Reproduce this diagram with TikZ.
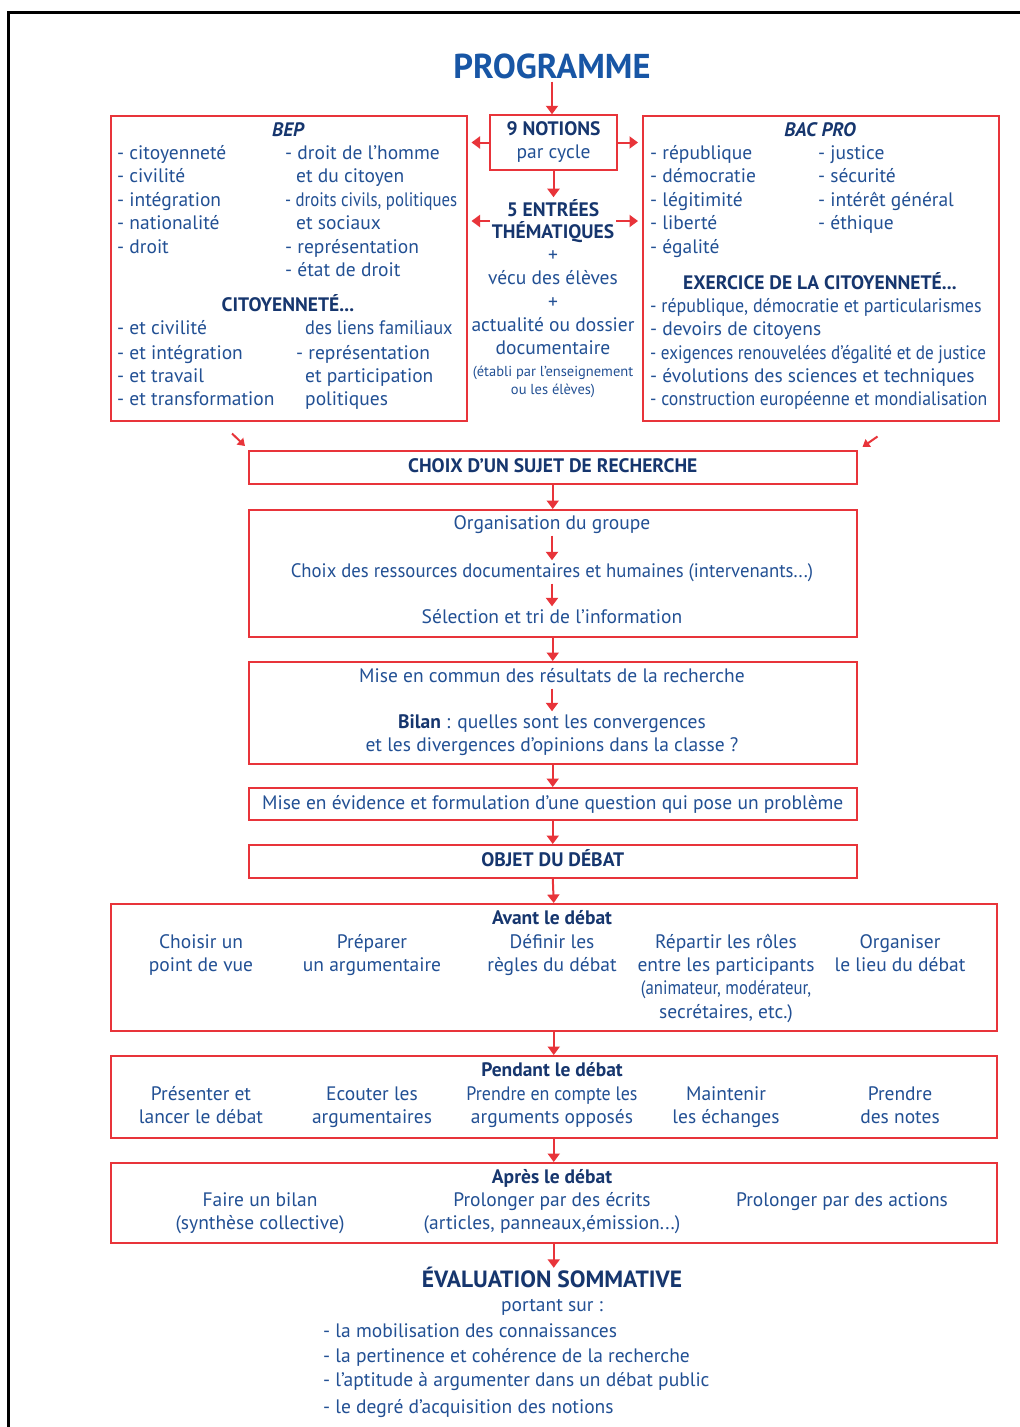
\documentclass[tikz,border=0pt]{standalone}
\usepackage{fontspec}
\setmainfont{PT Sans}
\usetikzlibrary{arrows.meta}
\definecolor{txt}{RGB}{34,80,148}
\definecolor{dk}{RGB}{22,54,110}
\definecolor{ttl}{RGB}{24,86,165}
\definecolor{rd}{RGB}{232,52,58}
\newcommand\fs{\fontsize{19.5}{23}\selectfont}
\newcommand\fsm{\fontsize{14.5}{17}\selectfont}
\newcommand\cn[2][0.86]{\scalebox{#1}[1]{#2}}
\tikzset{
  t/.style={font=\fs, text=txt, inner sep=1pt, text height=15pt, text depth=4pt},
  tl/.style={t, anchor=west},
  hd/.style={t, font=\fs\bfseries, text=dk},
  box/.style={draw=rd, line width=1.5pt, inner sep=0pt, anchor=north west},
  arr/.style={draw=rd, line width=2pt, -{Triangle[width=12pt,length=8.5pt]}},
  sarr/.style={draw=rd, line width=2pt, -{Triangle[width=9pt,length=7pt]}},
}
\begin{document}
\begin{tikzpicture}[x=1pt,y=-1pt]
\useasboundingbox (0,0) rectangle (1020,1427);
\fill[white] (0,0) rectangle (1020,1427);
\draw[line width=3pt, black] (8.5,1430) -- (8.5,12) -- (1025,12);

% ---------- top ----------
\node[t, font=\fontsize{34.5}{36}\selectfont\bfseries, text=ttl, text height=25pt, text depth=2pt] (prog) at (552,67) {PROGRAMME};
\node[draw=rd, line width=1.5pt, minimum width=127pt, minimum height=55pt, inner sep=0pt, align=center, font=\fs, text=txt] (notions) at (553.5,142.5) {{\bfseries\color{dk}9 NOTIONS}\\par cycle};
\node[hd, align=center, text height=, text depth=, font=\fs\bfseries, inner sep=2pt] (entrees) at (553,221) {5 ENTRÉES\\[-1pt]THÉMATIQUES};
\node[t] (plus1) at (553,256) {+};
\node[t] (vecu) at (553,279) {vécu des élèves};
\node[t] (plus2) at (553,303) {+};
\node[t] (actu) at (553,326) {actualité ou dossier};
\node[t] (docu) at (553,349) {documentaire};
\node[t, font=\fsm, text height=11pt, text depth=3pt] (etab) at (553,372) {(établi par l'enseignement};
\node[t, font=\fsm, text height=11pt, text depth=3pt] (oules) at (553,390) {ou les élèves)};

% BEP box
\node[box, minimum width=356pt, minimum height=305pt] (bep) at (110,115) {};
\node[hd, font=\fs\bfseries\itshape] (beph) at (288,131) {BEP};
\foreach \y/\s [count=\i] in {154/- citoyenneté, 177/- civilité, 201/- intégration, 224/- nationalité, 248/- droit}
  \node[tl] (bl\i) at (116,\y) {\s};
\node[tl] (br1) at (284,154) {- droit de l'homme};
\node[tl] (br2) at (295,177) {et du citoyen};
\node[tl] (br3) at (284,201) {\cn{- droits civils, politiques}};
\node[tl] (br4) at (295,224) {et sociaux};
\node[tl] (br5) at (284,248) {- représentation};
\node[tl] (br6) at (284,271) {- état de droit};
\node[hd] (citoy) at (288,306) {CITOYENNETÉ...};
\foreach \y/\s [count=\i] in {329/- et civilité, 354/- et intégration, 377/- et travail, 400/- et transformation}
  \node[tl] (cl\i) at (116,\y) {\s};
\node[tl] (cr1) at (304,329) {\cn[0.94]{des liens familiaux}};
\node[tl] (cr2) at (295,354) {- représentation};
\node[tl] (cr3) at (304,377) {et participation};
\node[tl] (cr4) at (304,400) {politiques};

% BAC PRO box
\node[box, minimum width=356pt, minimum height=305pt] (bac) at (642,115) {};
\node[hd, font=\fs\bfseries\itshape] (bach) at (820,131) {BAC PRO};
\foreach \y/\s [count=\i] in {154/- république, 177/- démocratie, 201/- légitimité, 224/- liberté, 248/- égalité}
  \node[tl] (pl\i) at (649,\y) {\s};
\foreach \y/\s [count=\i] in {154/- justice, 177/- sécurité, 201/- intérêt général, 224/- éthique}
  \node[tl] (pr\i) at (817,\y) {\s};
\node[hd] (exer) at (820,284) {EXERCICE DE LA CITOYENNETÉ...};
\node[tl] (e1) at (649,307) {\cn[0.92]{- république, démocratie et particularismes}};
\node[tl] (e2) at (649,330) {- devoirs de citoyens};
\node[tl] (e3) at (649,354) {\cn[0.88]{- exigences renouvelées d'égalité et de justice}};
\node[tl] (e4) at (649,377) {- évolutions des sciences et techniques};
\node[tl] (e5) at (649,400) {\cn[0.91]{- construction européenne et mondialisation}};

% top arrows
\draw[arr] (prog.south) -- (prog.south |- notions.north);
\draw[arr] (notions.south) -- (notions.south |- entrees.north);
\draw[arr] (notions.west) -- ([xshift=4pt]bep.east |- notions.west);
\draw[arr] (notions.east) -- ([xshift=-4pt]bac.west |- notions.east);
\draw[arr] (entrees.west) -- ([xshift=4pt]bep.east |- entrees.west);
\draw[arr] (entrees.east) -- ([xshift=-4pt]bac.west |- entrees.east);

% ---------- process ----------
\node[box, minimum width=608pt, minimum height=33pt] (choix) at (248,450) {};
\node[hd] (choixt) at (choix.center) {CHOIX D'UN SUJET DE RECHERCHE};
\draw[sarr] ([shift={(122,12)}]bep.south west) -- ([shift={(-3,-4)}]choix.north west);
\draw[sarr] ([shift={(-122,15)}]bac.south east) -- ([shift={(5,-3)}]choix.north east);

\node[box, minimum width=608pt, minimum height=127pt] (org) at (248,509) {};
\node[t] (o1) at (552,524) {Organisation du groupe};
\node[t] (o2) at (552,572) {\cn[0.96]{Choix des ressources documentaires et humaines (intervenants...)}};
\node[t] (o3) at (552,618) {Sélection et tri de l'information};
\draw[arr, shorten <=1pt, shorten >=1pt] (o1.south) -- (o2.north);
\draw[arr, shorten <=1pt, shorten >=1pt] (o2.south) -- (o3.north);

\node[box, minimum width=608pt, minimum height=102pt] (mise) at (248,661) {};
\node[t] (m1) at (552,677) {Mise en commun des résultats de la recherche};
\node[t] (m2) at (552,723) {{\bfseries\color{dk}Bilan} : quelles sont les convergences};
\node[t] (m3) at (552,746) {et les divergences d'opinions dans la classe ?};
\draw[arr, shorten <=1pt, shorten >=1pt] (m1.south) -- (m2.north);

\node[box, minimum width=608pt, minimum height=32pt] (evid) at (248,787) {};
\node[t] (evidt) at (evid.center) {Mise en évidence et formulation d'une question qui pose un problème};

\node[box, minimum width=608pt, minimum height=33pt] (objet) at (248,844) {};
\node[hd] (objett) at (objet.center) {OBJET DU DÉBAT};

\draw[arr] (choix.south) -- (org.north);
\draw[arr] (org.south) -- (mise.north);
\draw[arr] (mise.south) -- (evid.north);
\draw[arr] (evid.south) -- (objet.north);

% ---------- debate ----------
\node[box, minimum width=886pt, minimum height=127pt] (avant) at (110,903) {};
\node[hd] (avh) at (552,919) {Avant le débat};
\node[t] (a11) at (201,943) {Choisir un};   \node[t] (a12) at (201,966) {point de vue};
\node[t] (a21) at (372,943) {Préparer};     \node[t] (a22) at (372,966) {un argumentaire};
\node[t] (a31) at (552,943) {Définir les};  \node[t] (a32) at (552,966) {règles du débat};
\node[t] (a41) at (726,943) {Répartir les rôles}; \node[t] (a42) at (726,966) {entre les participants};
\node[t] (a43) at (726,989) {\cn{(animateur, modérateur,}}; \node[t] (a44) at (726,1013) {secrétaires, etc.)};
\node[t] (a51) at (900,943) {Organiser};    \node[t] (a52) at (900,966) {le lieu du débat};

\node[box, minimum width=886pt, minimum height=82pt] (pend) at (110,1055) {};
\node[hd] (peh) at (552,1071) {Pendant le débat};
\node[t] (p11) at (201,1095) {Présenter et}; \node[t] (p12) at (201,1118) {lancer le débat};
\node[t] (p21) at (372,1095) {Ecouter les};  \node[t] (p22) at (372,1118) {argumentaires};
\node[t] (p31) at (552,1095) {\cn[0.92]{Prendre en compte les}}; \node[t] (p32) at (552,1118) {arguments opposés};
\node[t] (p41) at (726,1095) {Maintenir};    \node[t] (p42) at (726,1118) {les échanges};
\node[t] (p51) at (900,1095) {Prendre};      \node[t] (p52) at (900,1118) {des notes};

\node[box, minimum width=886pt, minimum height=80pt] (apres) at (110,1162) {};
\node[hd] (aph) at (552,1178) {Après le débat};
\node[t] (r11) at (260,1201) {Faire un bilan}; \node[t] (r12) at (260,1224) {(synthèse collective)};
\node[t] (r21) at (552,1201) {Prolonger par des écrits}; \node[t] (r22) at (552,1224) {(articles, panneaux,émission...)};
\node[t] (r31) at (842,1201) {Prolonger par des actions};

\node[hd, font=\fontsize{23.5}{25}\selectfont\bfseries, text height=18pt, text depth=2pt] (eval) at (552,1279) {ÉVALUATION SOMMATIVE};
\node[t] (port) at (552,1306) {portant sur :};
\foreach \y/\s [count=\i] in {1332/- la mobilisation des connaissances, 1357/- la pertinence et cohérence de la recherche, 1381/- l'aptitude à argumenter dans un débat public, 1408/- le degré d'acquisition des notions}
  \node[tl] (ev\i) at (322,\y) {\s};

\draw[arr] (objet.south) -- (avant.north);
\draw[arr] (avant.south) -- (pend.north);
\draw[arr] (pend.south) -- (apres.north);
\draw[arr] (apres.south) -- (apres.south |- eval.north);
\end{tikzpicture}
\end{document}
